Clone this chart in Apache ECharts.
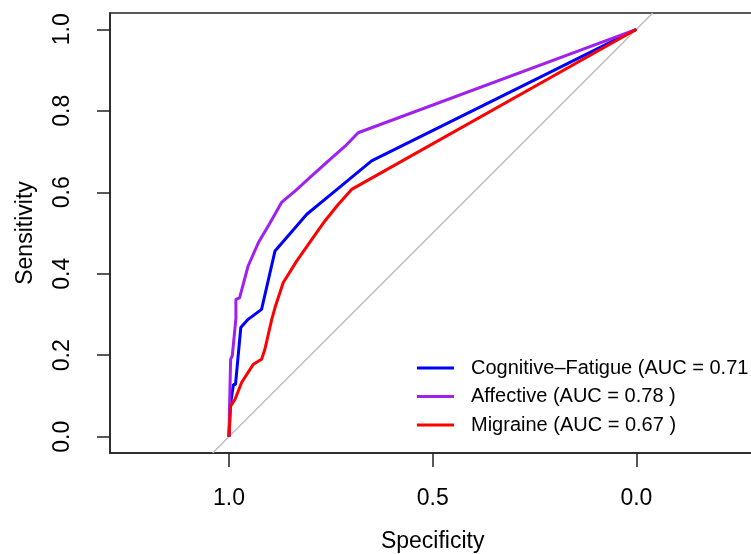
<!DOCTYPE html>
<html>
<head>
<meta charset="utf-8">
<script src="https://cdn.jsdelivr.net/npm/echarts@6/dist/echarts.min.js"></script>
<style>html,body{margin:0;padding:0;background:#fff}#c{width:751px;height:554px}</style>
</head>
<body>
<div id="c"></div>
<script>
// Tick labels
const xTicks = [0, 0.5, 1.0];
const yTicks = [0, 0.2, 0.4, 0.6, 0.8, 1.0];

// Series names
const seriesNames = [
  'Cognitive\u2013Fatigue (AUC = 0.71 )',
  'Affective (AUC = 0.78 )',
  'Migraine (AUC = 0.67 )'
];

// Cognitive-Fatigue ROC (specificity, sensitivity)
const cogSpec = [1, 0.997, 0.989, 0.984, 0.971, 0.953, 0.920, 0.887, 0.809, 0.740, 0.650, 0];
const cogSens = [0, 0.075, 0.128, 0.128, 0.268, 0.288, 0.3125, 0.456, 0.546, 0.603, 0.677, 1];

// Affective ROC
const affSpec = [1, 0.998, 0.996, 0.992, 0.983, 0.983, 0.974, 0.953, 0.928, 0.899, 0.871, 0.838, 0.797, 0.756, 0.715, 0.683, 0];
const affSens = [0, 0.10, 0.19, 0.198, 0.29, 0.337, 0.341, 0.419, 0.476, 0.525, 0.575, 0.603, 0.640, 0.677, 0.713, 0.746, 1];

// Migraine ROC
const migSpec = [1, 0.996, 0.985, 0.969, 0.940, 0.920, 0.912, 0.895, 0.887, 0.867, 0.834, 0.797, 0.765, 0.732, 0.699, 0];
const migSens = [0, 0.075, 0.092, 0.133, 0.178, 0.190, 0.214, 0.288, 0.317, 0.378, 0.431, 0.484, 0.529, 0.570, 0.607, 1];

// Chance diagonal
const diagSpec = [1.04, -0.04];
const diagSens = [-0.04, 1.04];

const zip = (a, b) => a.map((v, i) => [v, b[i]]);
const FONT = '"Liberation Sans", Arial, Helvetica, sans-serif';

const chart = echarts.init(document.getElementById('c'), null, {renderer: 'canvas'});
chart.setOption({
  animation: false,
  backgroundColor: '#fff',
  textStyle: {fontFamily: FONT},
  grid: {left: 110, top: 13, width: 645.4, height: 440, show: true, borderColor: '#222', borderWidth: 1.5,
    backgroundColor: 'transparent', containLabel: false, outerBoundsMode: 'none'},
  xAxis: {
    type: 'value', inverse: true, min: -0.292, max: 1.292, position: 'bottom',
    name: 'Specificity', nameLocation: 'middle', nameGap: 77,
    nameTextStyle: {fontSize: 23, color: '#000', fontFamily: FONT},
    axisLine: {show: true, onZero: false, lineStyle: {color: '#222', width: 1.5}},
    splitLine: {show: false},
    axisTick: {show: true, inside: false, length: 14, customValues: xTicks, lineStyle: {color: '#222', width: 1.5}},
    axisLabel: {customValues: xTicks, fontSize: 23, color: '#000', margin: 34, fontFamily: FONT,
      formatter: v => v.toFixed(1)}
  },
  yAxis: {
    type: 'value', min: -0.04, max: 1.04, position: 'left',
    name: 'Sensitivity', nameLocation: 'middle', nameGap: 73,
    nameTextStyle: {fontSize: 23, color: '#000', fontFamily: FONT},
    axisLine: {show: true, onZero: false, lineStyle: {color: '#222', width: 1.5}},
    splitLine: {show: false},
    axisTick: {show: true, inside: false, length: 13, customValues: yTicks, lineStyle: {color: '#222', width: 1.5}},
    axisLabel: {customValues: yTicks, fontSize: 23, color: '#000', margin: 36, rotate: 90, fontFamily: FONT,
      formatter: v => v.toFixed(1)}
  },
  legend: {
    orient: 'vertical', left: 412, top: 353, itemWidth: 37, itemHeight: 3, itemGap: 8.5,
    icon: 'rect',
    data: seriesNames,
    textStyle: {fontSize: 20, color: '#000', lineHeight: 20, padding: [0, 0, 0, 12], fontFamily: FONT}
  },
  series: [
    {type: 'line', name: 'diag', data: zip(diagSpec, diagSens), showSymbol: false, silent: true,
      lineStyle: {color: '#bebebe', width: 1.5}, z: 1},
    {type: 'line', name: seriesNames[0], data: zip(cogSpec, cogSens), showSymbol: false, symbol: 'none',
      lineStyle: {color: '#0000ff', width: 3}, itemStyle: {color: '#0000ff'}, z: 2},
    {type: 'line', name: seriesNames[1], data: zip(affSpec, affSens), showSymbol: false, symbol: 'none',
      lineStyle: {color: '#a020f0', width: 3}, itemStyle: {color: '#a020f0'}, z: 3},
    {type: 'line', name: seriesNames[2], data: zip(migSpec, migSens), showSymbol: false, symbol: 'none',
      lineStyle: {color: '#ff0000', width: 3}, itemStyle: {color: '#ff0000'}, z: 4}
  ]
});
</script>
</body>
</html>
